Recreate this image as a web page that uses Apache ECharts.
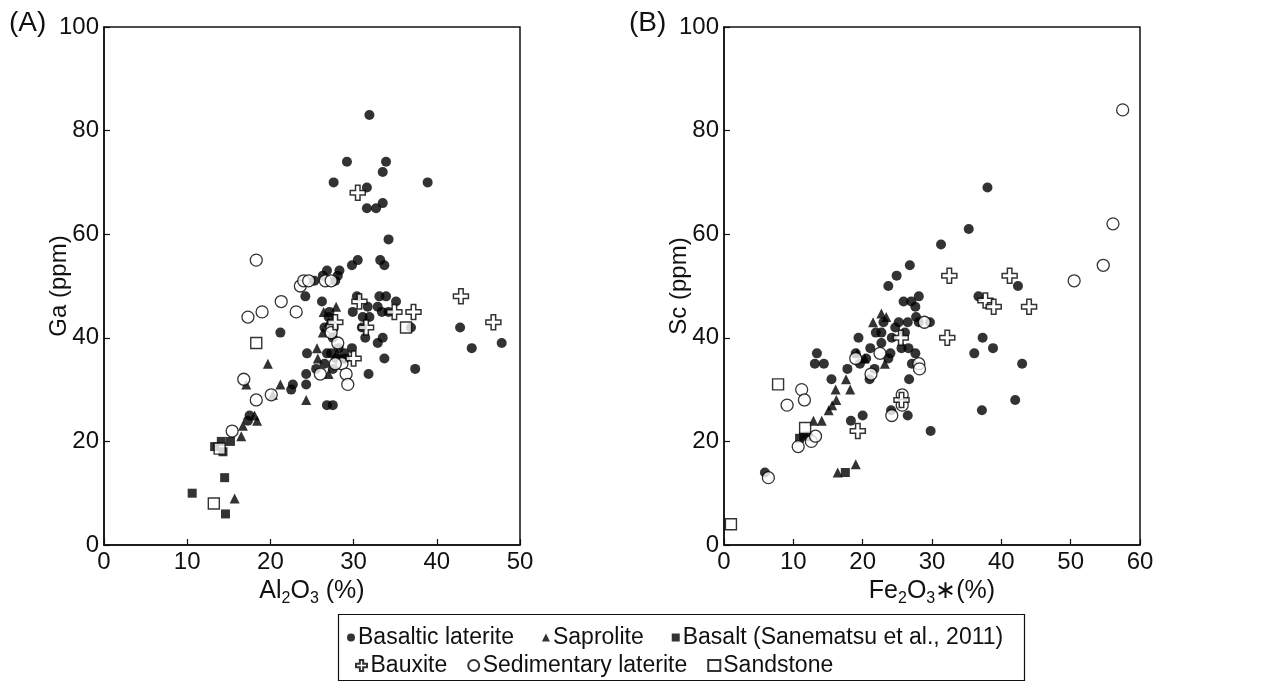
<!DOCTYPE html>
<html><head><meta charset="utf-8">
<script src="https://cdn.jsdelivr.net/npm/echarts@6/dist/echarts.min.js"></script>
<style>html,body{margin:0;padding:0;background:#fff}#c{width:1266px;height:684px}</style>
</head><body><div id="c"></div>
<script>
// ---------- Panel A: Ga (ppm) vs Al2O3 (%) ----------
var basalticA = [[31.9,83],[29.2,74],[33.9,74],[33.5,72],[27.6,70],[38.9,70],[31.6,69],[31.6,65],[32.7,65],[33.5,66],[34.2,59],[29.8,54],[30.5,55],[33.2,55],[33.7,54],[26.8,53],[26.3,52],[28.3,53],[28.1,52],[25.3,51],[27.8,51],[24.2,48],[26.2,47],[27.1,45],[29.9,45],[30.4,48],[31.7,46],[32.9,46],[33.1,48],[33.9,48],[35.1,47],[33.4,45],[34.2,45],[31.1,44],[31.9,44],[31.0,42],[36.9,42],[21.2,41],[31.4,40],[33.5,40],[32.9,39],[24.4,37],[29.8,38],[28.9,37],[33.7,36],[37.4,34],[31.8,33],[26.8,37],[27.3,37],[26.5,35],[27.5,34],[25.5,34],[24.3,33],[24.3,31],[22.7,31],[22.5,30],[26.8,27],[27.5,27],[17.3,24],[17.5,25],[42.8,42],[44.2,38],[47.8,39],[27.0,44],[27.5,40],[28.2,38],[29.0,36],[27.9,36],[26.5,42]];
var saproliteA = [[27.9,46],[26.4,45],[26.3,41],[25.6,38],[25.7,36],[28.0,37],[27.0,33],[19.7,35],[17.1,31],[21.2,31],[20.3,29],[24.3,28],[18.1,25],[18.4,24],[16.7,23],[16.5,21],[15.7,9],[27.0,43],[28.5,36]];
var basaltA = [[10.6,10],[14.5,13],[14.6,6],[15.2,20],[14.1,20],[13.3,19],[14.3,18]];
var bauxiteA = [[30.5,68],[30.7,47],[27.8,43],[31.5,42],[34.9,45],[37.2,45],[30.0,36],[42.9,48],[46.8,43]];
var sedimentaryA = [[18.3,55],[17.3,44],[19.0,45],[21.3,47],[23.1,45],[23.6,50],[24.0,51],[24.6,51],[26.6,51],[27.3,51],[27.4,42],[27.3,41],[28.1,39],[28.6,35],[29.1,33],[29.3,31],[26.0,33],[16.8,32],[20.1,29],[18.3,28],[15.4,22],[27.8,35]];
var sandstoneA = [[13.2,8],[18.3,39],[36.3,42],[13.9,18.6]];

// ---------- Panel B: Sc (ppm) vs Fe2O3* (%) ----------
var basalticB = [[38.0,69],[35.3,61],[31.3,58],[26.8,54],[24.9,52],[23.7,50],[28.1,48],[27.0,47],[25.9,47],[27.6,46],[27.7,44],[28.1,43],[29.7,43],[26.5,43],[25.2,43],[24.7,42],[22.7,41],[21.9,41],[26.1,41],[24.2,40],[19.4,40],[22.7,39],[25.6,38],[26.6,38],[21.1,38],[27.6,37],[19.0,37],[23.7,36],[19.6,35],[21.7,34],[21.0,32],[27.1,35],[26.7,32],[13.4,37],[13.1,35],[14.4,35],[15.5,32],[17.8,34],[20.0,25],[18.3,24],[24.1,26],[26.5,25],[29.8,22],[36.7,48],[37.3,40],[36.1,37],[38.8,38],[42.4,50],[43.0,35],[37.2,26],[42.0,28],[5.9,14],[12.2,21],[23.0,43],[24.0,37],[20.5,36]];
var saproliteB = [[22.7,44.7],[23.4,44],[21.5,43],[20.3,36],[23.2,35],[17.6,32],[18.2,30],[16.1,30],[16.2,28],[15.6,27],[15.1,26],[14.1,24],[12.9,24],[19.0,15.6],[16.4,14],[19.2,37]];
var basaltB = [[17.5,14],[11.5,21],[10.9,20.6]];
var bauxiteB = [[32.5,52],[41.2,52],[37.7,47.2],[38.9,46],[44.0,46],[32.2,40],[25.5,40],[25.6,28],[19.3,22]];
var sedimentaryB = [[6.4,13],[10.7,19],[12.6,20],[13.2,21],[9.1,27],[11.2,30],[11.6,28],[22.5,37],[28.9,43],[28.1,35],[28.2,34],[25.7,29],[25.7,27],[24.2,25],[19.0,36],[21.2,33],[50.5,51],[54.7,54],[56.1,62],[57.5,84]];
var sandstoneB = [[1.0,4],[7.8,31],[11.7,22.6]];

var groupNames = ['Basaltic laterite','Saprolite','Basalt (Sanematsu et al., 2011)','Bauxite','Sedimentary laterite','Sandstone'];

var K = '#111';
var FONT = 'Liberation Sans';
var crossPath = 'path://M3.5,0 H6.5 V3.5 H10 V6.5 H6.5 V10 H3.5 V6.5 H0 V3.5 H3.5 Z';

var styles = {
  'Basaltic laterite': {symbol:'circle', size:10, itemStyle:{color:'#000'}},
  'Saprolite': {symbol:'triangle', size:10, itemStyle:{color:'#000'}},
  'Basalt (Sanematsu et al., 2011)': {symbol:'rect', size:9, itemStyle:{color:'#000'}},
  'Bauxite': {symbol:crossPath, size:15, itemStyle:{color:'#fff', borderColor:'#000', borderWidth:1.5}},
  'Sedimentary laterite': {symbol:'circle', size:12, itemStyle:{color:'#fff', borderColor:'#000', borderWidth:1.3}},
  'Sandstone': {symbol:'rect', size:11, itemStyle:{color:'#fff', borderColor:'#000', borderWidth:1.4}}
};
var legendIcon = {
  'Basaltic laterite': 'circle', 'Saprolite': 'triangle', 'Basalt (Sanematsu et al., 2011)': 'rect',
  'Bauxite': crossPath, 'Sedimentary laterite': 'circle', 'Sandstone': 'rect'
};

function mk(name, data, gi) {
  var s = styles[name];
  return {name:name, type:'scatter', xAxisIndex:gi, yAxisIndex:gi, data:data,
    symbol:s.symbol, symbolSize:s.size, itemStyle:s.itemStyle, emphasis:{disabled:true}, animation:false};
}
function legendData(names) {
  return names.map(function(n){ return {name:n, icon:legendIcon[n]}; });
}

var axisCommon = {
  axisLine:{show:true, onZero:false, lineStyle:{color:K, width:1.5}},
  axisTick:{show:true, inside:true, length:6, lineStyle:{color:K, width:1.2}},
  splitLine:{show:false},
  axisLabel:{color:K, fontSize:24, fontFamily:FONT, margin:5}
};
function xa(gi, max, interval, nameRich) {
  return Object.assign({}, axisCommon, {type:'value', gridIndex:gi, min:0, max:max, interval:interval,
    name:nameRich, nameLocation:'middle', nameGap:31, nameMoveOverlap:false,
    nameTextStyle:{color:K, fontSize:25, fontFamily:FONT,
      rich:{n:{fontSize:25, fontFamily:FONT, color:K, lineHeight:28, verticalAlign:'bottom'},
            s:{fontSize:16, fontFamily:FONT, color:K, lineHeight:28, verticalAlign:'bottom', padding:[0,0,-3,0]}}}});
}
function ya(gi, name) {
  return Object.assign({}, axisCommon, {type:'value', gridIndex:gi, min:0, max:100, interval:20,
    name:name, nameLocation:'middle', nameGap:33, nameMoveOverlap:false,
    nameTextStyle:{color:K, fontSize:24, fontFamily:FONT}});
}

var chart = echarts.init(document.getElementById('c'), null, {renderer:'canvas'});
chart.setOption({
  backgroundColor:'#fff',
  animation:false,
  grid:[
    {left:104, top:27, width:416, height:518, show:true, borderColor:K, borderWidth:1.5, backgroundColor:'transparent'},
    {left:724, top:27, width:416, height:518, show:true, borderColor:K, borderWidth:1.5, backgroundColor:'transparent'}
  ],
  xAxis:[
    xa(0, 50, 10, '{n|Al}{s|2}{n|O}{s|3}{n| (%)}'),
    xa(1, 60, 10, '{n|Fe}{s|2}{n|O}{s|3}{n|∗(%)}')
  ],
  yAxis:[ya(0,'Ga (ppm)'), ya(1,'Sc (ppm)')],
  legend:[
    {data:legendData(groupNames.slice(0,3)), left:342, top:621, itemWidth:8, itemHeight:8, itemGap:28,
     textStyle:{color:K, fontSize:23, fontFamily:FONT, padding:[0,0,0,-2]}, selectedMode:false},
    {data:legendData(groupNames.slice(3)), left:350, top:649, itemWidth:12, itemHeight:11, itemGap:20,
     textStyle:{color:K, fontSize:23, fontFamily:FONT, padding:[0,0,0,-2]}, selectedMode:false}
  ],
  graphic:[
    {type:'rect', shape:{x:338.5, y:614.5, width:686, height:66}, style:{fill:'none', stroke:K, lineWidth:1.2}},
    {type:'text', left:9, top:9, style:{text:'(A)', fontSize:28, fontFamily:FONT, fill:K}},
    {type:'text', left:629, top:9, style:{text:'(B)', fontSize:28, fontFamily:FONT, fill:K}}
  ],
  series:[
    mk(groupNames[0], basalticA, 0), mk(groupNames[1], saproliteA, 0), mk(groupNames[2], basaltA, 0),
    mk(groupNames[4], sedimentaryA, 0), mk(groupNames[5], sandstoneA, 0), mk(groupNames[3], bauxiteA, 0),
    mk(groupNames[0], basalticB, 1), mk(groupNames[1], saproliteB, 1), mk(groupNames[2], basaltB, 1),
    mk(groupNames[4], sedimentaryB, 1), mk(groupNames[5], sandstoneB, 1), mk(groupNames[3], bauxiteB, 1)
  ]
});
</script></body></html>
